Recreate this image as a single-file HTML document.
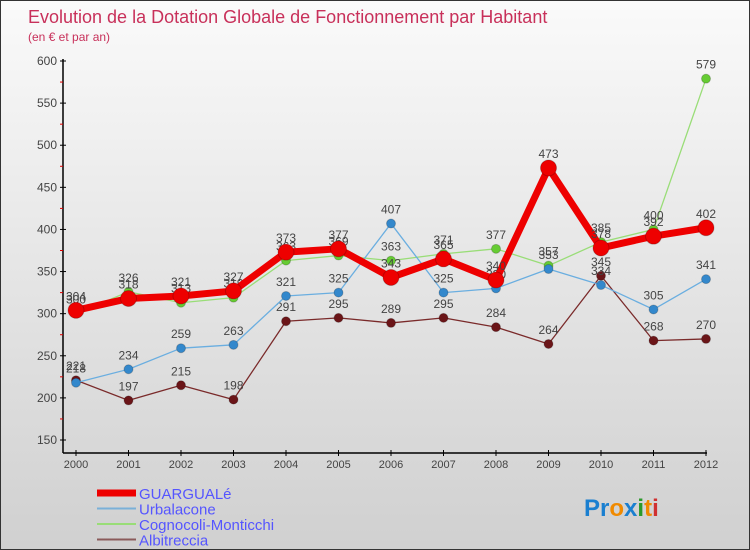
<!DOCTYPE html>
<html><head><meta charset="utf-8"><style>
body{margin:0}
#c{width:750px;height:550px;position:relative;box-sizing:border-box;border:1px solid #333;background:linear-gradient(#fafafa,#d0d0d0);font-family:"Liberation Sans",sans-serif;overflow:hidden}
svg text{font-family:"Liberation Sans",sans-serif}
</style></head><body>
<div id="c">
<svg id="s" width="750" height="550">
<text x="27" y="22" font-size="18" fill="#c8305a">Evolution de la Dotation Globale de Fonctionnement par Habitant</text>
<text x="27" y="40" font-size="12" fill="#c8305a">(en € et par an)</text>
</svg>
</div>
<script>
const years=['2000','2001','2002','2003','2004','2005','2006','2007','2008','2009','2010','2011','2012'];
const guargualeVals=[304,318,321,327,373,377,343,365,340,473,378,392,402];
const urbalaconeVals=[218,234,259,263,321,325,407,325,330,353,334,305,341];
const cognocoliVals=[300,326,313,319,363,369,363,371,377,357,385,400,579];
const albitrecciaVals=[221,197,215,198,291,295,289,295,284,264,345,268,270];
const yTicks=[150,200,250,300,350,400,450,500,550,600];
const NS='http://www.w3.org/2000/svg';
const s=document.getElementById('s');
const X=i=>75+i*52.5, Y=v=>60+(600-v)*(379/450);
function mk(t,a,p){const e=document.createElementNS(NS,t);for(const k in a)e.setAttribute(k,a[k]);(p||s).appendChild(e);return e;}
let ax=mk('line',{x1:62,y1:58,x2:62,y2:452,stroke:'#000','stroke-width':1.5});


let bx=mk('line',{x1:62,y1:452,x2:706,y2:452,stroke:'#000','stroke-width':1.5});


yTicks.forEach(v=>{
 mk('line',{x1:59,y1:Y(v),x2:65,y2:Y(v),stroke:'#000'});
 if(v<600)mk('line',{x1:59,y1:Y(v+25),x2:62,y2:Y(v+25),stroke:'#d00'});
 const t=mk('text',{x:56,y:Y(v)+4,'font-size':12,fill:'#444','text-anchor':'end'});t.textContent=v;
 
 
});
years.forEach((y,i)=>{
 mk('line',{x1:X(i),y1:449,x2:X(i),y2:455,stroke:'#000'});
 const t=mk('text',{x:X(i),y:467,'font-size':11,fill:'#444','text-anchor':'middle'});t.textContent=y;
 
 
});
const series=[
 {n:'albitreccia',v:albitrecciaVals,c:'#7a2a2a',p:'#6b1518',w:1.3,r:4.5},
 {n:'cognocoli-monticchi',v:cognocoliVals,c:'#99dd77',p:'#66cc33',w:1.3,r:4.5},
 {n:'urbalacone',v:urbalaconeVals,c:'#6aaee0',p:'#3388cc',w:1.3,r:4.5},
 {n:'guarguale',v:guargualeVals,c:'#ee0000',p:'#ee0000',w:7,r:8},
];
series.forEach(se=>{
 const g=mk('g',{});
 
 
 mk('polyline',{points:se.v.map((v,i)=>X(i)+','+Y(v)).join(' '),fill:'none',stroke:se.c,'stroke-width':se.w,'stroke-linejoin':'round'},g);
 se.v.forEach((v,i)=>{
  const c=mk('circle',{cx:X(i),cy:Y(v),r:se.r,fill:se.p,stroke:'rgba(0,0,0,0.2)'},g);
  
  
  const t=mk('text',{x:X(i),y:Y(v)-10,'font-size':12,fill:'#444','text-anchor':'middle'},g);t.textContent=v;
  
  
 });
});
const leg=[['GUARGUALé','#ee0000',7],['Urbalacone','#7ab0d8',2],['Cognocoli-Monticchi','#99dd77',2],['Albitreccia','#8a5a5a',2]];
leg.forEach((l,i)=>{
 const g=mk('g',{});
 
 
 const y=492+i*15.5;
 mk('line',{x1:96,y1:y,x2:135,y2:y,stroke:l[1],'stroke-width':l[2]},g);
 const t=mk('text',{x:138,y:y+6,'font-size':15,fill:'#5555ff'},g);t.textContent=l[0];
});
const lg=mk('text',{x:583,y:515,'font-size':24,'font-weight':'bold'});


[['Pr','#1a7fd0'],['o','#f08a00'],['x','#1a7fd0'],['i','#2a9a2a'],['t','#f08a00'],['i','#d03030']].forEach(p=>{const ts=mk('tspan',{fill:p[1]},lg);ts.textContent=p[0];});
</script>
</body></html>
